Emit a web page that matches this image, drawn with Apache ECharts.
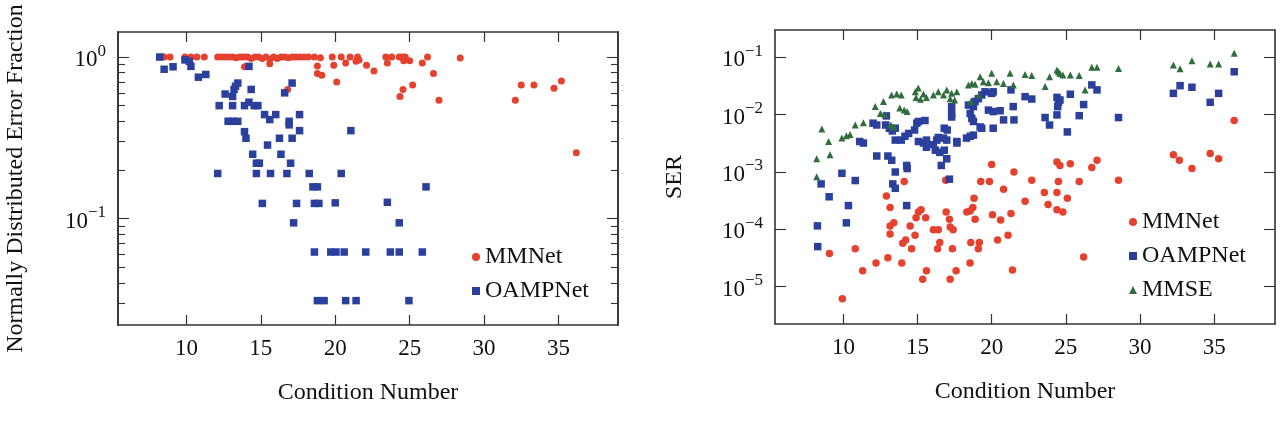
<!DOCTYPE html>
<html>
<head>
<meta charset="utf-8">
<script src="https://cdn.jsdelivr.net/npm/echarts@6/dist/echarts.min.js"></script>
<style>
  html, body { margin: 0; padding: 0; background: #fff; }
  #chart { width: 1287px; height: 425px; }
</style>
</head>
<body>
<div id="chart"></div>
<script>
// left panel: normally distributed error fraction vs condition number
const leftMMNet = [
  [8.5, 1.0], [8.9, 1.0], [9.9, 1.0], [10.3, 1.0], [10.7, 1.0], [11.2, 1.0],
  [12.1, 1.0], [12.35, 1.0], [12.6, 1.0], [12.85, 1.0], [13.1, 1.0], [13.35, 0.99],
  [13.6, 1.0], [13.85, 1.0], [14.1, 1.0], [14.35, 0.98], [14.6, 1.0], [14.85, 1.0],
  [15.1, 0.98], [15.35, 1.0], [15.6, 0.97], [15.85, 1.0], [16.1, 0.98], [16.35, 1.0],
  [16.6, 1.0], [16.85, 0.99], [17.1, 1.0], [17.35, 1.0], [17.6, 1.0], [17.9, 1.0],
  [18.2, 1.0], [18.6, 1.0], [19.0, 0.99], [19.8, 1.0], [20.4, 1.0], [21.0, 1.0],
  [21.5, 1.0], [23.4, 1.0], [23.8, 1.0], [24.3, 1.0], [24.5, 1.0], [24.7, 1.0],
  [26.2, 1.0], [28.4, 0.985],
  [13.9, 0.87], [15.6, 0.91], [16.8, 0.63], [18.8, 0.88], [18.8, 0.79], [19.1, 0.77],
  [19.9, 0.89], [20.1, 0.70], [20.7, 0.92], [21.4, 0.94], [21.6, 0.96], [22.1, 0.89],
  [22.6, 0.82], [23.5, 0.92], [24.6, 0.95], [25.0, 0.95], [25.85, 0.92], [26.6, 0.79],
  [26.97, 0.54], [25.2, 0.67], [24.55, 0.63], [24.35, 0.57], [32.1, 0.54], [32.5, 0.67],
  [33.35, 0.67], [34.7, 0.64], [35.2, 0.71], [36.2, 0.255]
];
const leftOAMPNet = [
  [8.2, 1.0], [8.5, 0.84], [9.1, 0.87], [9.9, 0.96], [10.2, 0.94], [10.3, 0.875],
  [10.8, 0.75], [11.3, 0.78], [14.2, 0.875], [13.45, 0.69], [13.3, 0.66], [13.2, 0.63],
  [13.1, 0.57], [12.6, 0.59], [12.2, 0.50], [13.1, 0.50], [13.9, 0.50], [14.2, 0.525],
  [14.35, 0.63], [14.55, 0.50], [14.8, 0.50], [15.25, 0.44], [15.6, 0.41], [16.0, 0.44],
  [12.8, 0.40], [13.1, 0.40], [13.45, 0.40], [13.9, 0.345], [14.0, 0.314], [15.45, 0.285],
  [16.25, 0.314], [16.9, 0.40], [16.9, 0.38], [17.1, 0.314], [17.6, 0.35], [17.6, 0.44],
  [16.6, 0.60], [17.1, 0.69], [21.05, 0.35], [14.45, 0.25], [14.7, 0.22], [14.9, 0.22],
  [16.35, 0.25], [17.0, 0.22], [12.1, 0.19], [14.7, 0.19], [15.65, 0.19], [16.75, 0.19],
  [18.25, 0.19], [20.4, 0.19], [18.5, 0.157], [18.8, 0.157], [15.1, 0.124], [17.4, 0.124],
  [18.6, 0.124], [18.9, 0.124], [20.0, 0.125], [17.2, 0.094], [18.6, 0.062], [19.7, 0.062],
  [20.05, 0.062], [20.6, 0.062], [22.05, 0.062], [18.8, 0.031], [19.25, 0.031], [20.7, 0.031],
  [21.4, 0.031], [26.1, 0.157], [23.5, 0.126], [24.3, 0.094], [23.7, 0.062], [24.3, 0.062],
  [25.85, 0.062], [24.95, 0.031]
];

// right panel: SER vs condition number
const rightMMNet = [
  [21.5, 1.0e-3], [22.7, 7.2e-4], [24.4, 1.5e-3], [24.6, 1.3e-3], [25.3, 1.4e-3], [24.5, 6.8e-4],
  [25.9, 6.8e-4], [26.75, 1.2e-3], [27.1, 1.6e-3], [28.55, 7.2e-4], [32.25, 2.0e-3], [32.65, 1.6e-3],
  [33.5, 1.15e-3], [34.73, 2.1e-3], [35.3, 1.7e-3], [36.35, 7.9e-3], [23.55, 4.4e-4], [24.4, 4.4e-4],
  [25.1, 3.5e-4], [22.25, 3.1e-4], [23.8, 2.7e-4], [24.4, 2.2e-4], [24.8, 2.0e-4], [21.3, 1.9e-4],
  [26.2, 3.3e-5], [21.4, 1.95e-5], [14.1, 6.8e-4], [12.9, 3.8e-4], [13.15, 2.4e-4], [13.15, 1.15e-4],
  [13.4, 1.3e-4], [13.15, 8.3e-5], [13.0, 3.2e-5], [13.94, 2.6e-5], [14.0, 5.7e-5], [14.2, 6.5e-5],
  [14.5, 1.15e-4], [14.83, 7.9e-5], [14.6, 4.6e-5], [14.9, 1.6e-4], [15.06, 2.0e-4], [15.24, 2.2e-4],
  [15.55, 1.6e-4], [15.35, 1.35e-5], [15.6, 1.9e-5], [16.07, 9.8e-5], [16.4, 9.8e-5], [16.5, 5.9e-5],
  [16.35, 4.6e-5], [17.35, 4.6e-5], [16.93, 2.0e-4], [17.15, 1.5e-4], [17.2, 1.1e-4], [17.4, 9.8e-5],
  [17.2, 1.35e-5], [17.6, 1.9e-5], [18.54, 2.6e-5], [18.32, 2.0e-4], [18.54, 2.1e-4], [18.73, 2.4e-4],
  [18.81, 3.5e-4], [18.88, 1.5e-4], [18.59, 5.9e-5], [19.17, 5.9e-5], [19.1, 4.6e-5], [19.26, 6.8e-4],
  [19.85, 6.8e-4], [20.05, 1.8e-4], [20.6, 1.45e-4], [20.8, 5.0e-4], [20.4, 6.5e-5], [21.1, 7.9e-5],
  [10.8, 4.6e-5], [9.06, 3.8e-5], [11.3, 1.9e-5], [12.2, 2.6e-5], [9.93, 6.2e-6], [16.9, 7.2e-4],
  [20.0, 1.35e-3]
];
const rightOAMPNet = [
  [8.5, 6.2e-4], [9.04, 3.7e-4], [10.34, 2.6e-4], [8.25, 1.15e-4], [10.2, 1.3e-4], [8.27, 5.0e-5],
  [10.8, 7.1e-4], [13.33, 6.2e-4], [13.5, 5.2e-4], [14.27, 2.6e-4], [17.15, 7.5e-4], [9.9, 9.5e-4],
  [11.35, 3.2e-3], [13.26, 1.6e-3], [13.5, 1.0e-3], [14.27, 1.3e-3], [14.3, 1.15e-3], [16.6, 1.3e-3],
  [16.97, 1.7e-3], [17.65, 3.2e-3], [12.25, 1.9e-3], [13.0, 1.9e-3], [11.1, 3.4e-3], [12.0, 7.1e-3],
  [12.25, 6.6e-3], [12.85, 6.6e-3], [13.1, 5.8e-3], [13.3, 5.2e-3], [13.5, 5.8e-3], [12.9, 9.5e-3],
  [13.5, 3.6e-3], [13.9, 3.6e-3], [14.15, 4.2e-3], [14.4, 4.7e-3], [14.8, 5.4e-3], [14.95, 7.1e-3],
  [15.06, 7.6e-3], [15.5, 7.9e-3], [15.06, 3.4e-3], [15.4, 3.2e-3], [15.6, 3.6e-3], [15.6, 2.7e-3],
  [16.07, 3.0e-3], [16.3, 3.6e-3], [16.4, 4.0e-3], [16.2, 2.4e-3], [16.5, 2.2e-3], [16.8, 2.4e-3],
  [16.75, 3.9e-3], [16.97, 3.6e-3], [16.8, 5.8e-3], [17.0, 5.4e-3], [17.3, 0.0138], [17.3, 0.0105],
  [17.3, 9.1e-3], [17.65, 3.4e-3], [18.3, 3.9e-3], [18.55, 4.2e-3], [18.77, 4.4e-3], [18.55, 0.0105],
  [18.66, 8.6e-3], [18.77, 7.6e-3], [18.43, 0.0147], [18.77, 0.0138], [18.88, 0.017], [19.1, 0.019],
  [19.33, 0.022], [19.55, 0.025], [19.22, 6.1e-3], [19.33, 5.8e-3], [20.0, 0.0235], [20.1, 0.025],
  [19.78, 0.012], [20.1, 0.0113], [20.57, 0.0117], [20.1, 5.8e-3], [20.8, 8.1e-3],
  [21.3, 0.027], [21.45, 0.0138], [21.5, 0.0081], [22.25, 0.0206], [22.7, 0.0187], [23.6, 8.9e-3],
  [23.9, 6.6e-3], [24.4, 0.02], [24.5, 0.0164], [24.6, 0.018], [24.45, 0.0138], [24.4, 9.9e-3],
  [25.1, 5.0e-3], [25.3, 0.0227], [25.9, 9.6e-3], [26.2, 0.015], [26.75, 0.033], [27.1, 0.027],
  [28.55, 8.9e-3], [32.25, 0.0235], [32.7, 0.032], [33.5, 0.030], [34.73, 0.0164], [35.3, 0.0235],
  [36.35, 0.056]
];
const rightMMSE = [
  [8.2, 1.7e-3], [9.1, 2.0e-3], [9.0, 3.4e-3], [8.55, 5.6e-3], [8.2, 8.3e-4], [9.9, 3.9e-3],
  [10.2, 4.3e-3], [10.45, 4.5e-3], [10.8, 6.6e-3], [11.35, 7.2e-3], [12.15, 0.0138], [12.7, 0.017],
  [13.25, 0.022], [13.6, 0.023], [13.9, 0.022], [13.8, 0.013], [14.1, 0.012], [14.3, 0.0113],
  [12.5, 0.0105], [12.8, 0.010], [13.2, 6.6e-3], [13.4, 6.1e-3], [14.85, 0.025], [15.05, 0.029],
  [15.4, 0.023], [15.6, 0.020], [14.9, 0.020], [15.2, 0.0185], [16.07, 0.022], [16.4, 0.025],
  [16.75, 0.022], [16.97, 0.027], [17.3, 0.0235], [17.65, 0.025], [17.2, 0.019], [17.5, 0.018],
  [18.43, 0.033], [18.66, 0.035], [18.88, 0.034], [19.22, 0.046], [19.44, 0.0376], [19.78, 0.036],
  [20.0, 0.0526], [20.34, 0.0376], [20.79, 0.035], [21.24, 0.0526], [21.46, 0.033], [18.6, 0.017],
  [19.15, 0.022], [22.25, 0.050], [22.7, 0.048], [23.6, 0.031], [23.9, 0.046], [24.4, 0.060],
  [24.5, 0.056], [24.6, 0.052], [24.8, 0.049], [25.3, 0.049], [25.9, 0.048], [26.3, 0.027],
  [26.75, 0.067], [27.1, 0.067], [28.55, 0.064], [32.25, 0.073], [32.7, 0.063], [33.5, 0.087],
  [34.73, 0.076], [35.3, 0.076], [36.35, 0.117]
];

const xTicks = [10, 15, 20, 25, 30, 35];
const leftMajor = [1, 0.1];
const leftMinor = [0.9, 0.8, 0.7, 0.6, 0.5, 0.4, 0.3, 0.2, 0.09, 0.08, 0.07, 0.06, 0.05, 0.04, 0.03];
const rightMajor = [1e-1, 1e-2, 1e-3, 1e-4, 1e-5];

const FONT = '"Liberation Serif", "Times New Roman", serif';
const TEXT = '#111';
const FRAME = '#333';
const RED = '#e5412f';
const BLUE = '#2b3f9c';
const GREEN = '#2f6e3c';

function powLabel(v) {
  const e = Math.round(Math.log10(v));
  return '{b|10}{s|' + (e < 0 ? '\u2212' + (-e) : e) + '}';
}

const powRich = {
  b: { fontSize: 23, fontFamily: FONT, color: TEXT, padding: [6, 0, 0, 0], verticalAlign: 'bottom' },
  s: { fontSize: 17, fontFamily: FONT, color: TEXT, verticalAlign: 'top' }
};

function xAxisFor(grid, pos, min, max, withLabels) {
  return {
    type: 'value', gridIndex: grid, position: pos, min: min, max: max,
    axisLine: { show: true, lineStyle: { color: FRAME, width: 1.6 } },
    axisTick: { show: true, inside: true, length: 10, customValues: xTicks, lineStyle: { color: FRAME, width: 1.2 } },
    axisLabel: withLabels ? { show: true, customValues: xTicks, margin: 12, fontSize: 23, fontFamily: FONT, color: TEXT } : { show: false },
    splitLine: { show: false },
    name: withLabels ? 'Condition Number' : '',
    nameLocation: 'middle', nameGap: 56,
    nameTextStyle: { fontSize: 24, fontFamily: FONT, color: TEXT }
  };
}

function yAxisFor(grid, pos, min, max, ticks, len, labels, name, gap) {
  return {
    type: 'log', logBase: 10, gridIndex: grid, position: pos, min: min, max: max,
    axisLine: { show: true, lineStyle: { color: FRAME, width: 1.6 } },
    axisTick: { show: true, inside: true, length: len, customValues: ticks, lineStyle: { color: FRAME, width: 1.1 } },
    axisLabel: labels ? { show: true, customValues: ticks, margin: 12, formatter: powLabel, rich: powRich } : { show: false },
    splitLine: { show: false },
    minorTick: { show: false },
    name: name || '',
    nameLocation: 'middle', nameGap: gap || 0,
    nameTextStyle: { fontSize: 24, fontFamily: FONT, color: TEXT }
  };
}

const chart = echarts.init(document.getElementById('chart'));

chart.setOption({
  animation: false,
  backgroundColor: '#fff',
  grid: [
    { left: 118, top: 32, width: 500, height: 293 },
    { left: 775, top: 30, width: 500, height: 294 }
  ],
  xAxis: [
    xAxisFor(0, 'bottom', 5.4, 39.0, true),
    xAxisFor(0, 'top', 5.4, 39.0, false),
    xAxisFor(1, 'bottom', 5.39, 39.1, true),
    xAxisFor(1, 'top', 5.39, 39.1, false)
  ],
  yAxis: [
    yAxisFor(0, 'left', 0.0219, 1.429, leftMajor, 11, true, 'Normally Distributed Error Fraction', 90),
    yAxisFor(0, 'left', 0.0219, 1.429, leftMinor, 7, false),
    yAxisFor(0, 'right', 0.0219, 1.429, leftMajor, 11, false),
    yAxisFor(0, 'right', 0.0219, 1.429, leftMinor, 7, false),
    yAxisFor(1, 'left', 2.24e-6, 0.299, rightMajor, 11, true, 'SER', 88),
    yAxisFor(1, 'right', 2.24e-6, 0.299, rightMajor, 11, false)
  ],
  legend: [
    {
      orient: 'vertical', left: 472, top: 245, padding: 0,
      itemWidth: 8, itemHeight: 8, itemGap: 10,
      data: ['MMNet', 'OAMPNet'],
      textStyle: { fontSize: 24, fontFamily: FONT, color: TEXT, lineHeight: 23 }
    },
    {
      orient: 'vertical', left: 1129, top: 210, padding: 0,
      itemWidth: 8, itemHeight: 8, itemGap: 10,
      data: ['MMNet', 'OAMPNet', 'MMSE'],
      textStyle: { fontSize: 24, fontFamily: FONT, color: TEXT, lineHeight: 23 }
    }
  ],
  series: [
    { name: 'MMNet', type: 'scatter', xAxisIndex: 0, yAxisIndex: 0, symbol: 'circle', symbolSize: 7,
      itemStyle: { color: RED, opacity: 1 }, data: leftMMNet },
    { name: 'OAMPNet', type: 'scatter', xAxisIndex: 0, yAxisIndex: 0, symbol: 'rect', symbolSize: 7.5,
      itemStyle: { color: BLUE, opacity: 1 }, data: leftOAMPNet },
    { name: 'MMNet', type: 'scatter', xAxisIndex: 2, yAxisIndex: 4, symbol: 'circle', symbolSize: 7.5,
      itemStyle: { color: RED, opacity: 1 }, data: rightMMNet },
    { name: 'OAMPNet', type: 'scatter', xAxisIndex: 2, yAxisIndex: 4, symbol: 'rect', symbolSize: 7.5,
      itemStyle: { color: BLUE, opacity: 1 }, data: rightOAMPNet },
    { name: 'MMSE', type: 'scatter', xAxisIndex: 2, yAxisIndex: 4, symbol: 'triangle', symbolSize: 7,
      itemStyle: { color: GREEN, opacity: 1 }, data: rightMMSE }
  ]
});
</script>
</body>
</html>
